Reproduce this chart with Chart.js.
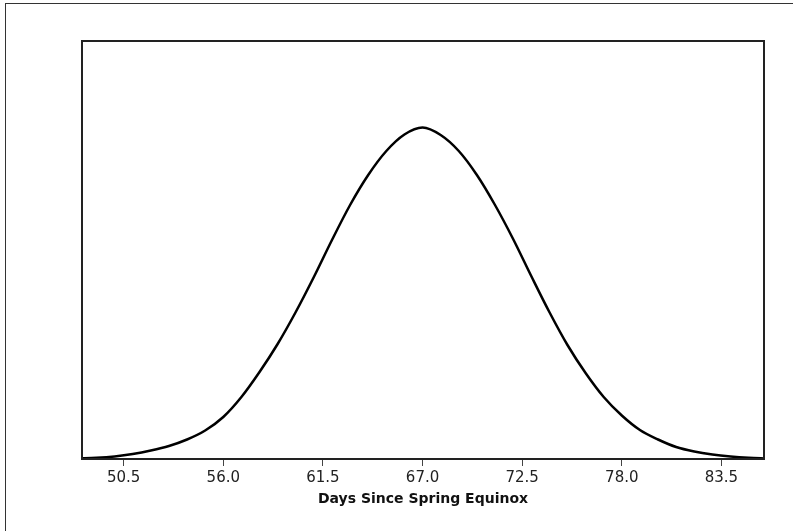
<!DOCTYPE html>
<html>
<head>
<meta charset="utf-8">
<script src="https://cdn.jsdelivr.net/npm/chart.js@4/dist/chart.umd.min.js"></script>
<style>
  html, body { margin: 0; padding: 0; background: #fff; }
  #wrap { position: relative; width: 793px; height: 531px; overflow: hidden; }
  #frame {
    position: absolute; left: 5px; top: 3px; width: 900px; height: 700px;
    border-left: 1px solid #333; border-top: 1px solid #333;
  }
  canvas { position: absolute; left: 0; top: 0; }
</style>
</head>
<body>
<div id="wrap">
  <div id="frame"></div>
  <canvas id="chart" width="793" height="531"></canvas>
</div>
<script>
// days since the spring equinox and the relative frequency at each day
const days = [48, 49, 50, 51, 52, 53, 54, 55, 56, 57, 58, 59, 60, 61, 62, 63, 64, 65, 66, 67,
  68, 69, 70, 71, 72, 73, 74, 75, 76, 77, 78, 79, 80, 81, 82, 83, 84, 85, 86];
const freq = [0.5, 1.2, 2.6, 5, 8.5, 13, 19.5, 28.5, 42, 62, 87, 115, 147, 182, 219, 254, 284, 308, 324.5, 331.5,
  324, 308, 284, 254, 220, 183, 147, 114, 86, 62, 43.5, 29, 19.5, 12, 7.5, 4.5, 2.5, 1.2, 0.5];
const tickValues = [50.5, 56.0, 61.5, 67.0, 72.5, 78.0, 83.5];

const xMin = 48.2;
const xMax = 85.85;

// box around the plotting area
const plotFrame = {
  id: "plotFrame",
  afterDraw(chart) {
    const { ctx, chartArea: a } = chart;
    ctx.save();
    ctx.strokeStyle = "#222";
    ctx.lineWidth = 2;
    ctx.strokeRect(a.left, a.top, a.right - a.left, a.bottom - a.top);
    ctx.restore();
  }
};

new Chart(document.getElementById("chart"), {
  type: "line",
  data: {
    datasets: [
      {
        data: days.map((d, i) => ({ x: d, y: freq[i] })),
        borderColor: "#000",
        borderWidth: 2.5,
        pointRadius: 0,
        cubicInterpolationMode: "monotone",
        fill: false
      }
    ]
  },
  options: {
    responsive: false,
    animation: false,
    layout: { padding: { left: 82, right: 29, top: 41, bottom: 23 } },
    plugins: {
      legend: { display: false },
      tooltip: { enabled: false }
    },
    scales: {
      x: {
        type: "linear",
        min: xMin,
        max: xMax,
        afterBuildTicks: scale => {
          scale.ticks = tickValues.map(v => ({ value: v }));
        },
        afterFit: scale => {
          scale.height = 49;
        },
        grid: { drawOnChartArea: false, drawTicks: true, tickLength: 7, color: "#444", lineWidth: 1 },
        border: { display: true, color: "#444", width: 1 },
        ticks: {
          padding: 3,
          color: "#222",
          font: { family: "DejaVu Sans", size: 15 },
          callback: v => Number(v).toFixed(1),
          maxRotation: 0,
          autoSkip: false
        },
        title: {
          display: true,
          text: "Days Since Spring Equinox",
          color: "#111",
          padding: 0,
          font: { family: "DejaVu Sans", size: 14, weight: "bold" }
        }
      },
      y: {
        display: false,
        min: 0,
        max: 418
      }
    }
  },
  plugins: [plotFrame]
});
</script>
</body>
</html>
